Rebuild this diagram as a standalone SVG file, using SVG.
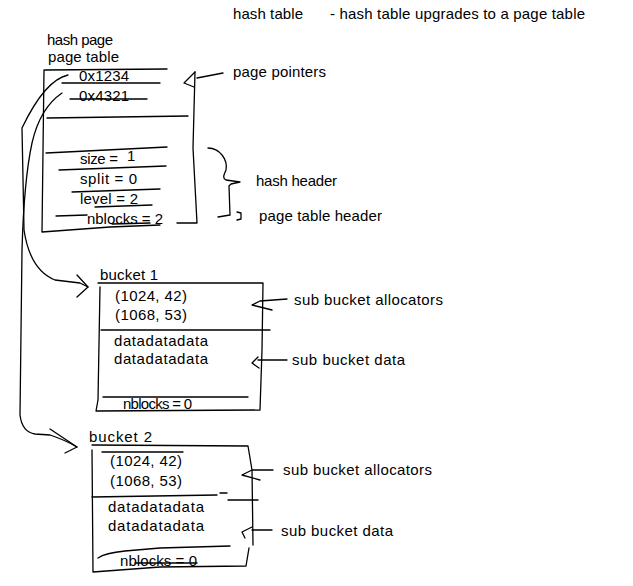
<svg xmlns="http://www.w3.org/2000/svg" width="633" height="586" viewBox="0 0 633 586">
<style>
text{font-family:"Liberation Sans","DejaVu Sans",sans-serif;font-size:15px;fill:#000}
.l{fill:none;stroke:#000;stroke-width:1.3;stroke-linecap:round;stroke-linejoin:round}
</style>
<rect width="633" height="586" fill="#fff"/>
<g id="title">
<text x="233" y="19" textLength="70">hash table</text>
<text x="330" y="19" textLength="255">- hash table upgrades to a page table</text>
</g>
<g id="page-table">
<text x="47" y="45" textLength="66">hash page</text>
<text x="48" y="62" textLength="71">page table</text>
<path class="l" d="M45,70 L167,69 M44,70 L42,232 L110,227 L160,225 M177,223 L197,223 L193,148 L195,72"/>
<path class="l" d="M62,83 L160,83 M70,99 L147,99 M47,118 L188,116 M46,153 L167,147 M59,170 L166,166 M72,192 L160,189 M95,207 L152,205 M56,216 L87,215 M112,224 L150,223"/>
<text x="79" y="81" textLength="50">0x1234</text>
<text x="79" y="101" textLength="50">0x4321</text>
<text x="80" y="164" textLength="38">size =</text>
<text x="127" y="161">1</text>
<text x="80" y="184" textLength="57">split = 0</text>
<text x="80" y="204" textLength="58">level = 2</text>
<text x="87" y="224" textLength="76">nblocks = 2</text>
</g>
<g id="labels-top">
<text x="233" y="77" textLength="93">page pointers</text>
<text x="256" y="186" textLength="81">hash header</text>
<text x="259" y="221" textLength="123">page table header</text>
<path class="l" d="M223,73 L197,78 M195,72 L184,83 L194,87"/>
<path class="l" d="M208,148 C220,148 228,160 226,170 C224,175 222,178 226,180 L240,182 L231,184 L229,186 L230,215 L218,217 M237,212 L241,213 L241,219 L237,220"/>
</g>
<g id="bucket1">
<text x="100" y="280" textLength="58">bucket 1</text>
<path class="l" d="M98,283 L263,283 L262,350 L260,410 L96,411 L98,400 L100,287"/>
<path class="l" d="M101,330 L270,330 M103,397 L248,397"/>
<text x="115" y="301" textLength="72">(1024, 42)</text>
<text x="115" y="320" textLength="72">(1068, 53)</text>
<text x="114" y="346" textLength="94">datadatadata</text>
<text x="114" y="364" textLength="94">datadatadata</text>
<text x="123" y="409" textLength="69">nblocks = 0</text>
</g>
<g id="bucket1-labels">
<text x="294" y="305" textLength="149">sub bucket allocators</text>
<text x="292" y="365" textLength="113">sub bucket data</text>
<path class="l" d="M287,299 L260,301 L252,305 L272,310"/>
<path class="l" d="M287,360 L258,360 M258,357 L252,363 L259,368"/>
</g>
<g id="bucket2">
<text x="89" y="442" textLength="63">bucket 2</text>
<path class="l" d="M92,445 L248,446 L252,470 L253,545 M102,452 L183,452 M92,450 L93,572 L160,567 L246,566 L249,548"/>
<path class="l" d="M92,497 L217,495 M220,493 L227,493 M228,500 L258,500 M98,558 Q105,553 125,551 L160,548 L230,546 M135,563 L197,563"/>
<text x="110" y="466" textLength="72">(1024, 42)</text>
<text x="110" y="486" textLength="72">(1068, 53)</text>
<text x="108" y="512" textLength="96">datadatadata</text>
<text x="108" y="531" textLength="96">datadatadata</text>
<text x="120" y="566" textLength="77">nblocks = 0</text>
</g>
<g id="bucket2-labels">
<text x="283" y="475" textLength="149">sub bucket allocators</text>
<text x="281" y="536" textLength="112">sub bucket data</text>
<path class="l" d="M273,470 L252,470 L242,475 L260,480"/>
<path class="l" d="M272,530 L252,530 M252,527 L242,532 L245,538"/>
</g>
<g id="connectors">
<path class="l" d="M68,75 Q45,80 22,128 L24,230 Q30,270 55,280 L80,283 L88,287"/>
<path class="l" d="M77,275 L88,287 L77,297"/>
<path class="l" d="M62,93 Q40,108 32,143 Q24,180 22,250 L20,415 Q22,432 35,434 L50,435 Q65,440 77,447"/>
<path class="l" d="M50,429 L77,447 L65,453"/>
</g>
</svg>
